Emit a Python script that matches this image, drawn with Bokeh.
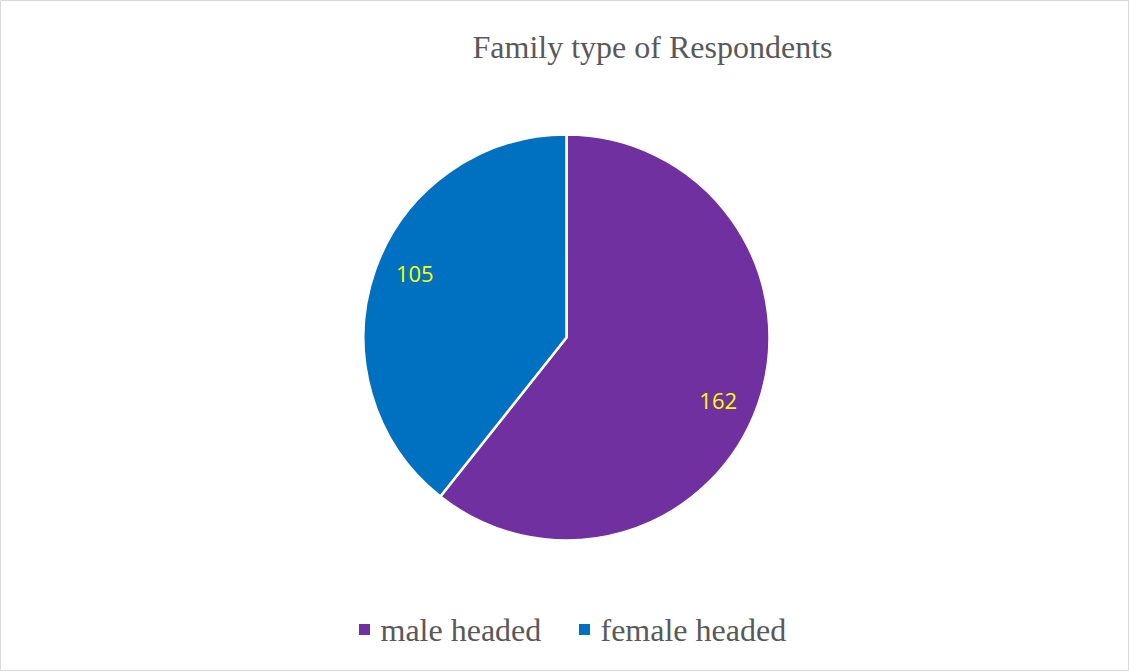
import math
from bokeh.plotting import figure
from bokeh.models import Range1d, ColumnDataSource
from bokeh.core.properties import value
from bokeh.embed import file_html
from bokeh.resources import INLINE

# Data
categories = ["male headed", "female headed"]
counts = [162, 105]
colors = ["#7030A0", "#0070C0"]
title_text = "Family type of Respondents"

W, H = 1129, 671
p = figure(width=W, height=H, output_backend="svg", toolbar_location=None,
           x_range=Range1d(0, W), y_range=Range1d(0, H), min_border=0)
p.axis.visible = False
p.grid.visible = False
p.outline_line_color = "#D9D9D9"
p.outline_line_width = 1
p.background_fill_color = "white"
p.border_fill_color = "white"

cx, cy, r = 566, H - 337, 203
total = sum(counts)
starts, ends, lx, ly, labels = [], [], [], [], []
acc = 0.0
for c in counts:
    a0 = math.pi / 2 - 2 * math.pi * acc / total
    a1 = math.pi / 2 - 2 * math.pi * (acc + c) / total
    starts.append(a0)
    ends.append(a1)
    mid = (a0 + a1) / 2 - math.radians(3.5)
    lx.append(cx + 0.81 * r * math.cos(mid))
    ly.append(cy + 0.81 * r * math.sin(mid))
    labels.append(str(c))
    acc += c

src = ColumnDataSource(dict(start=starts, end=ends, color=colors, cat=categories))
p.wedge(x=cx, y=cy, radius=r, radius_units="screen", start_angle="start", end_angle="end",
        direction="clock", fill_color="color", line_color="white", line_width=2.5, source=src)

p.text(x=lx, y=ly, text=labels, text_color="#FFFF00", text_font=value("Open Sans"),
       text_font_size="22px", text_align="center", text_baseline="middle")

# Title
p.text(x=[652], y=[H - 46], text=[title_text], text_color="#595959",
       text_font=value("Liberation Serif"), text_font_size="32px",
       text_align="center", text_baseline="middle")

# Legend
leg_y = H - 629
sq_x = [364, 584]
txt_x = [380, 600]
p.rect(x=sq_x, y=[leg_y, leg_y], width=11, height=11, width_units="screen",
       height_units="screen", fill_color=colors, line_color=None)
p.text(x=txt_x, y=[leg_y, leg_y], text=categories, text_color="#595959",
       text_font=value("Liberation Serif"), text_font_size="32px",
       text_align="left", text_baseline="middle")

open("out.html", "w").write(file_html(p, INLINE))
